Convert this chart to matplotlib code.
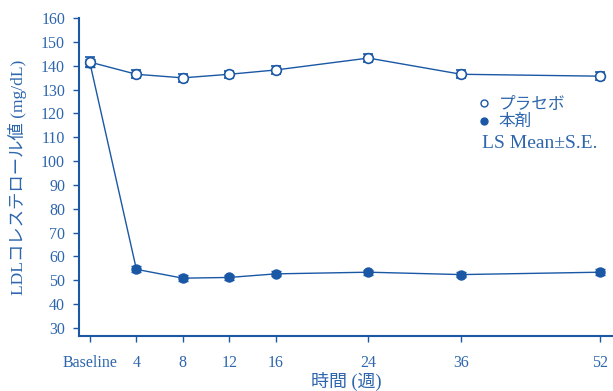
import matplotlib
matplotlib.use("Agg")
import matplotlib.pyplot as plt
from matplotlib.lines import Line2D

plt.rcParams['font.family'] = ['Liberation Serif', 'Noto Sans CJK JP', 'DejaVu Sans']

tick_labels = ["Baseline", "4", "8", "12", "16", "24", "36", "52"]
x_pos = [0, 1, 2, 3, 4, 6, 8, 11]
placebo = [141.5, 136.4, 134.9, 136.4, 138.2, 143.2, 136.4, 135.6]
placebo_se = [2.0, 1.6, 1.6, 1.4, 1.6, 1.7, 1.6, 1.6]
drug = [141.0, 54.6, 50.9, 51.2, 52.7, 53.4, 52.4, 53.4]
drug_se = [1.6, 1.2, 1.2, 1.1, 1.1, 1.1, 1.2, 1.2]

line_c = '#1a58a5'
text_c = '#2d66ad'

fig = plt.figure(figsize=(6.13, 3.91), dpi=100)
ax = fig.add_axes([79/613, 55/391, 1 - 79/613, (336-18)/391 * 1.0])
px_per = (328 - 18) / 130.0
ybot = 30 - (336 - 328) / px_per
ax.set_ylim(ybot, 160)
ax.set_xlim((79 - 90) / 46.4, (613 - 90) / 46.4)

ax.errorbar(x_pos, drug, yerr=drug_se, color=line_c, lw=1.0, marker='o',
            ms=6.5, mfc=line_c, mec=line_c, capsize=3.5, elinewidth=1.0,
            capthick=1.0, zorder=3)
ax.errorbar(x_pos, placebo, yerr=placebo_se, color=line_c, lw=1.0, marker='o',
            ms=7, mfc='white', mec=line_c, mew=1.2, capsize=3.5,
            elinewidth=1.0, capthick=1.0, zorder=4)

ax.set_yticks(range(30, 161, 10))
ax.set_xticks(x_pos)
ax.set_xticklabels(tick_labels)
for s in ['top', 'right']:
    ax.spines[s].set_visible(False)
for s in ['left', 'bottom']:
    ax.spines[s].set_color(line_c)
    ax.spines[s].set_linewidth(1.5)
ax.spines['left'].set_bounds(ybot, 160)
ax.tick_params(axis='both', colors=line_c, labelcolor=text_c, labelsize=11.5,
               length=4, width=1.0, direction='out')
ax.tick_params(axis='x', pad=10)
ax.tick_params(axis='y', pad=6)

ax.set_ylabel("LDLコレステロール値 (mg/dL)", color=text_c, fontsize=12.5, labelpad=10)
ax.set_xlabel("時間 (週)", color=text_c, fontsize=13, labelpad=0)

handles = [Line2D([], [], ls='none', marker='o', ms=5, mfc='white', mec=line_c, mew=1.0),
           Line2D([], [], ls='none', marker='o', ms=5, mfc=line_c, mec=line_c)]
leg = ax.legend(handles, ["プラセボ", "本剤"], loc='upper left',
                bbox_to_anchor=((472 - 79) / 534, (391 - 90 - 55) / 318.0),
                frameon=False, fontsize=12, handlelength=0.6,
                handletextpad=0.6, labelspacing=0.1, borderaxespad=0)
for t in leg.get_texts():
    t.set_color(text_c)
ax.text((482 - 79) / 534, (391 - 143 - 55) / 318.0, "LS Mean±S.E.",
        transform=ax.transAxes, color=text_c, fontsize=14, va='center', ha='left')

fig.savefig("out.png", dpi=100)
